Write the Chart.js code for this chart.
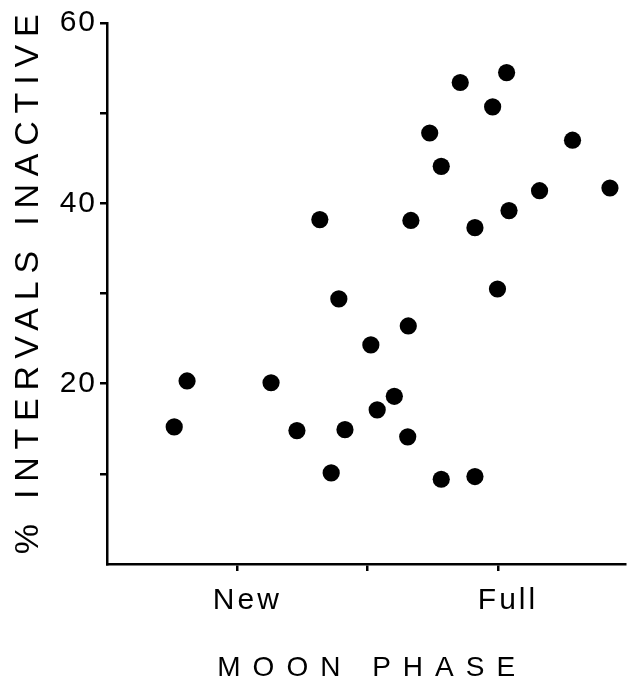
<!DOCTYPE html>
<html>
<head>
<meta charset="utf-8">
<script src="https://cdn.jsdelivr.net/npm/chart.js@4"></script>
<style>
html,body{margin:0;padding:0;background:#fff;}
#wrap{width:634px;height:687px;}
canvas{display:block;}
</style>
</head>
<body>
<div id="wrap"><canvas id="c" width="634" height="687"></canvas></div>
<script>
// Data (x: days relative to new moon, New = 0, Full = 14)
const phaseDays = [14.46, 11.97, 13.71, 10.33, 18.0, 10.95, 16.23, 20.01, 14.59, 4.43, 9.32, 12.76, 13.97, 5.45, 9.18, 7.17, -2.70, 1.81, 8.43, 7.51, -3.39, 3.20, 5.78, 9.15, 5.04, 10.95, 12.76];
const inactivePct = [54.5, 53.4, 50.7, 47.8, 47.0, 44.1, 41.4, 41.7, 39.2, 38.2, 38.1, 37.3, 30.5, 29.4, 26.4, 24.3, 20.3, 20.1, 18.6, 17.1, 15.2, 14.8, 14.9, 14.1, 10.1, 9.4, 9.7];

const xTickValues = [0, 7, 14];
const xTickLabels = ['New', '', 'Full'];
const yTickValues = [10, 20, 30, 40, 50, 60];
const yTickLabels = ['', '20', '', '40', '', '60'];
const xTitle = 'MOON PHASE';
const yTitle = '% INTERVALS INACTIVE';

const FONT = "'Liberation Sans', Arial, Helvetica, sans-serif";

const spacingCfg = {
  x: { title: 12, labels: 3, tdx: 6, tdy: 0, ldx: 10, ldy: 0 },
  y: { title: 7.8, labels: 2, tdx: 0, tdy: -13, ldx: 0, ldy: 0 }
};

const spacingPlugin = {
  id: 'letterSpacing',
  beforeDraw(chart) {
    Object.values(chart.scales).forEach(s => {
      if (s._lsPatched) return;
      s._lsPatched = true;
      const cfg = spacingCfg[s.id];
      if (!cfg) return;
      const origTitle = s.drawTitle;
      const origLabels = s.drawLabels;
      s.drawTitle = function () {
        const ctx = this.ctx;
        ctx.save();
        ctx.letterSpacing = cfg.title + 'px';
        ctx.translate(cfg.tdx, cfg.tdy);
        origTitle.apply(this, arguments);
        ctx.restore();
      };
      s.drawLabels = function () {
        const ctx = this.ctx;
        ctx.save();
        ctx.letterSpacing = cfg.labels + 'px';
        ctx.translate(cfg.ldx, cfg.ldy);
        origLabels.apply(this, arguments);
        ctx.restore();
      };
    });
  }
};

const points = phaseDays.map((x, i) => ({ x: x, y: inactivePct[i] }));

new Chart(document.getElementById('c'), {
  type: 'scatter',
  data: {
    datasets: [{
      data: points,
      pointRadius: 8.6,
      pointHoverRadius: 8.6,
      pointBackgroundColor: '#000',
      pointBorderWidth: 0,
      pointBorderColor: '#000'
    }]
  },
  plugins: [spacingPlugin],
  options: {
    responsive: false,
    animation: false,
    devicePixelRatio: 1,
    layout: { padding: { left: 0, top: 23, right: 0, bottom: 0 } },
    plugins: { legend: { display: false }, tooltip: { enabled: false } },
    scales: {
      x: {
        type: 'linear',
        min: -7,
        max: 20.84,
        afterBuildTicks: s => { s.ticks = xTickValues.map(v => ({ value: v })); },
        afterFit: s => { s.height = 123; },
        ticks: {
          autoSkip: false,
          maxRotation: 0,
          padding: 12,
          color: '#000',
          font: { family: FONT, size: 30 },
          callback: v => { const i = xTickValues.indexOf(v); return i >= 0 ? xTickLabels[i] : ''; }
        },
        grid: {
          display: true,
          drawOnChartArea: false,
          drawTicks: true,
          tickLength: 7,
          tickWidth: 2.5,
          tickColor: '#000',
          lineWidth: 2.5,
          color: '#000'
        },
        border: { display: true, color: '#000', width: 2.5 },
        title: {
          display: true,
          text: xTitle,
          color: '#000',
          font: { family: FONT, size: 28 },
          padding: { top: 0, bottom: 2 }
        }
      },
      y: {
        type: 'linear',
        min: 0,
        max: 60,
        afterBuildTicks: s => { s.ticks = yTickValues.map(v => ({ value: v })); },
        afterFit: s => { s.width = 107; },
        ticks: {
          autoSkip: false,
          padding: 3,
          color: '#000',
          font: { family: FONT, size: 30 },
          callback: v => { const i = yTickValues.indexOf(v); return i >= 0 ? yTickLabels[i] : ''; }
        },
        grid: {
          display: true,
          drawOnChartArea: false,
          drawTicks: true,
          tickLength: 7,
          tickWidth: 2.5,
          tickColor: '#000',
          lineWidth: 2.5,
          color: '#000'
        },
        border: { display: true, color: '#000', width: 2.5 },
        title: {
          display: true,
          text: yTitle,
          color: '#000',
          font: { family: FONT, size: 34 },
          padding: { top: 8, bottom: 0 }
        }
      }
    }
  }
});
</script>
</body>
</html>
